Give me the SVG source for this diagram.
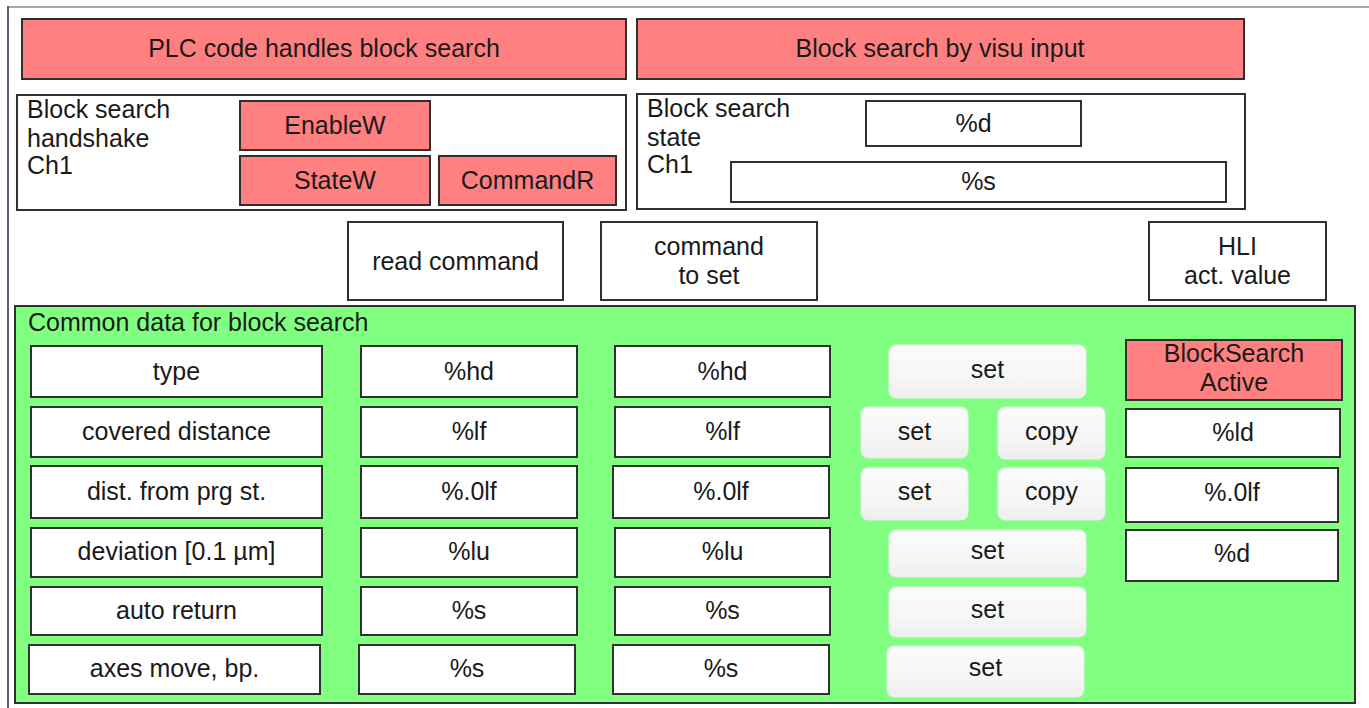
<svg xmlns="http://www.w3.org/2000/svg" width="1369" height="708" viewBox="0 0 1369 708">
<defs>
<linearGradient id="btnGrad" x1="0" y1="0" x2="0" y2="1">
<stop offset="0" stop-color="#fbfbfb"/>
<stop offset="0.6" stop-color="#f6f6f6"/>
<stop offset="1" stop-color="#eeeeee"/>
</linearGradient>
<style>
.box{fill:#ffffff;stroke:#303030;stroke-width:2}
.red{fill:#ff8080;stroke:#303030;stroke-width:2}
.grn{fill:#80ff80;stroke:#303030;stroke-width:2}
.btn{fill:url(#btnGrad);stroke:#e8efe8;stroke-width:1}
text{font-family:"Liberation Sans",Arial,sans-serif;font-size:25px;fill:#1a1a1a}
.c{text-anchor:middle}
</style>
</defs>
<rect x="0" y="0" width="1369" height="708" fill="#ffffff"/>
<g id="frame">
<line x1="8" y1="7" x2="1369" y2="7" stroke="#a8a8a8" stroke-width="2"/>
<line x1="8" y1="6" x2="8" y2="708" stroke="#50607a" stroke-width="2"/>
</g>
<g id="connectors"></g>
<g id="plc-title"><rect class="red" x="22" y="19" width="604" height="60"/><text class="c" x="324" y="57">PLC code handles block search</text></g>
<g id="visu-title"><rect class="red" x="637" y="19" width="607" height="60"/><text class="c" x="940" y="57">Block search by visu input</text></g>
<g id="handshake">
<rect class="box" x="17" y="95" width="609" height="115"/>
<text x="27" y="118">Block search</text>
<text x="27" y="147">handshake</text>
<text x="27" y="174">Ch1</text>
</g>
<g id="enablew"><rect class="red" x="240" y="101" width="190" height="49"/><text class="c" x="335" y="134">EnableW</text></g>
<g id="statew"><rect class="red" x="240" y="156" width="190" height="49"/><text class="c" x="335" y="189">StateW</text></g>
<g id="commandr"><rect class="red" x="439" y="156" width="177" height="49"/><text class="c" x="527.5" y="189">CommandR</text></g>
<g id="state">
<rect class="box" x="637" y="94" width="608" height="115"/>
<text x="647" y="117">Block search</text>
<text x="647" y="146">state</text>
<text x="647" y="173">Ch1</text>
</g>
<g id="state-d"><rect class="box" x="866" y="101" width="215" height="45"/><text class="c" x="973.5" y="132">%d</text></g>
<g id="state-s"><rect class="box" x="731" y="162" width="495" height="40"/><text class="c" x="978.5" y="190">%s</text></g>
<g id="read-command"><rect class="box" x="348" y="222" width="215" height="78"/><text class="c" x="455.5" y="270">read command</text></g>
<g id="command-to-set"><rect class="box" x="601" y="222" width="216" height="78"/><text class="c" x="709" y="255">command</text><text class="c" x="709" y="284">to set</text></g>
<g id="hli"><rect class="box" x="1149" y="222" width="177" height="78"/><text class="c" x="1237.5" y="255">HLI</text><text class="c" x="1237.5" y="284">act. value</text></g>
<g id="common">
<rect class="grn" x="15" y="306" width="1340" height="397"/>
<text x="28" y="331">Common data for block search</text>
</g>
<g id="row-type">
<rect class="box" x="31" y="346" width="291" height="51"/><text class="c" x="176.5" y="380">type</text>
<rect class="box" x="361" y="346" width="216" height="51"/><text class="c" x="469" y="380">%hd</text>
<rect class="box" x="615" y="346" width="215" height="51"/><text class="c" x="722.5" y="380">%hd</text>
<rect class="btn" x="889" y="345" width="197" height="53" rx="7"/><text class="c" x="987.5" y="378">set</text>
</g>
<g id="row-covered">
<rect class="box" x="31" y="407" width="291" height="50"/><text class="c" x="176.5" y="440">covered distance</text>
<rect class="box" x="361" y="407" width="216" height="50"/><text class="c" x="469" y="440">%lf</text>
<rect class="box" x="615" y="407" width="215" height="50"/><text class="c" x="722.5" y="440">%lf</text>
<rect class="btn" x="861" y="407" width="107" height="51" rx="7"/><text class="c" x="914.5" y="440">set</text>
<rect class="btn" x="998" y="407" width="107" height="52" rx="7"/><text class="c" x="1051.5" y="440">copy</text>
</g>
<g id="row-dist">
<rect class="box" x="31" y="466" width="291" height="52"/><text class="c" x="176.5" y="500">dist. from prg st.</text>
<rect class="box" x="361" y="466" width="216" height="52"/><text class="c" x="469" y="500">%.0lf</text>
<rect class="box" x="613" y="466" width="216" height="52"/><text class="c" x="721" y="500">%.0lf</text>
<rect class="btn" x="861" y="468" width="107" height="52" rx="7"/><text class="c" x="914.5" y="500">set</text>
<rect class="btn" x="998" y="468" width="107" height="52" rx="7"/><text class="c" x="1051.5" y="500">copy</text>
</g>
<g id="row-deviation">
<rect class="box" x="31" y="528" width="291" height="49"/><text class="c" x="176.5" y="560">deviation [0.1 µm]</text>
<rect class="box" x="361" y="528" width="216" height="49"/><text class="c" x="469" y="560">%lu</text>
<rect class="box" x="615" y="528" width="215" height="49"/><text class="c" x="722.5" y="560">%lu</text>
<rect class="btn" x="889" y="530" width="197" height="47" rx="7"/><text class="c" x="987.5" y="559">set</text>
</g>
<g id="row-auto">
<rect class="box" x="31" y="587" width="291" height="48"/><text class="c" x="176.5" y="619">auto return</text>
<rect class="box" x="361" y="587" width="216" height="48"/><text class="c" x="469" y="619">%s</text>
<rect class="box" x="615" y="587" width="215" height="48"/><text class="c" x="722.5" y="619">%s</text>
<rect class="btn" x="889" y="587" width="197" height="50" rx="7"/><text class="c" x="987.5" y="618">set</text>
</g>
<g id="row-axes">
<rect class="box" x="29" y="645" width="291" height="49"/><text class="c" x="174.5" y="677">axes move, bp.</text>
<rect class="box" x="359" y="645" width="216" height="49"/><text class="c" x="467" y="677">%s</text>
<rect class="box" x="613" y="645" width="216" height="49"/><text class="c" x="721" y="677">%s</text>
<rect class="btn" x="887" y="646" width="197" height="51" rx="7"/><text class="c" x="985.5" y="676">set</text>
</g>
<g id="bs-active"><rect class="red" x="1126" y="340" width="216" height="60"/><text class="c" x="1234" y="362">BlockSearch</text><text class="c" x="1234" y="391">Active</text></g>
<g id="val-ld"><rect class="box" x="1126" y="409" width="214" height="48"/><text class="c" x="1233" y="441">%ld</text></g>
<g id="val-lf"><rect class="box" x="1126" y="468" width="212" height="54"/><text class="c" x="1232" y="501">%.0lf</text></g>
<g id="val-d"><rect class="box" x="1126" y="530" width="212" height="51"/><text class="c" x="1232" y="562">%d</text></g>
</svg>
